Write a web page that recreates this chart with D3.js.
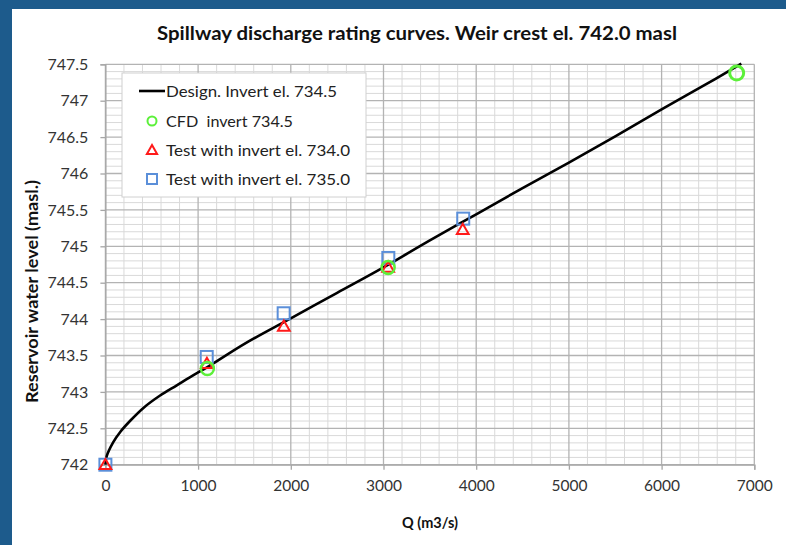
<!DOCTYPE html>
<html><head><meta charset="utf-8">
<script src="https://cdn.jsdelivr.net/npm/d3@7"></script>
<style>
html,body{margin:0;padding:0;background:#1d5b8c;}
svg{display:block;}
text{font-family:Lato,"Open Sans",sans-serif;white-space:pre;}
</style></head>
<body>
<svg id="c" width="786" height="545"></svg>
<script>
// ---- data ----
const title = "Spillway discharge rating curves. Weir crest el. 742.0 masl";
const xLabel = "Q (m3/s)";
const yLabel = "Reservoir water level (masl.)";
const xTicks = [0,1000,2000,3000,4000,5000,6000,7000];
const yTicks = [742,742.5,743,743.5,744,744.5,745,745.5,746,746.5,747,747.5];

const designQ = [0,15,85,160,265,410,590,770,950,1100,1500,2000,2500,3000,3500,4000,4500,5000,5500,6000,6500,6860];
const designH = [742,742.12,742.31,742.45,742.60,742.78,742.95,743.09,743.23,743.34,743.66,744.01,744.36,744.71,745.08,745.44,745.80,746.15,746.51,746.88,747.24,747.51];

const cfdQ = [1100,3050,6810];
const cfdH = [743.32,744.71,747.38];

const test734Q = [0,1095,1925,3050,3855];
const test734H = [742.0,743.39,743.90,744.71,745.23];

const test735Q = [0,1093,1923,3052,3860];
const test735H = [742.0,743.48,744.08,744.84,745.38];

const legendLabels = ["Design. Invert el. 734.5","CFD  invert 734.5","Test with invert el. 734.0","Test with invert el. 735.0"];

// ---- drawing ----
const svg = d3.select("#c");
svg.append("rect").attr("x",12).attr("y",9).attr("width",786-12).attr("height",545-9).attr("fill","#fff");

const x = d3.scaleLinear().domain([0,7000]).range([105.4,754.3]);
const y = d3.scaleLinear().domain([742,747.5]).range([464.7,64.3]);

const g = svg.append("g");
// minor grid
const minorX = d3.range(0,7001,200).filter(v=>v%1000!==0);
const minorY = d3.range(0,56).map(i=>742+i*0.1).filter(v=>Math.abs(v*2-Math.round(v*2))>1e-6);
g.selectAll(".mx").data(minorX).enter().append("line")
  .attr("x1",d=>x(d)).attr("x2",d=>x(d)).attr("y1",y(747.5)).attr("y2",y(742))
  .attr("stroke","#d9d9d9").attr("stroke-width",1);
g.selectAll(".my").data(minorY).enter().append("line")
  .attr("x1",x(0)).attr("x2",x(7000)).attr("y1",d=>y(d)).attr("y2",d=>y(d))
  .attr("stroke","#d9d9d9").attr("stroke-width",1);
// major grid
g.selectAll(".Mx").data(xTicks).enter().append("line")
  .attr("x1",d=>x(d)).attr("x2",d=>x(d)).attr("y1",y(747.5)).attr("y2",y(742))
  .attr("stroke","#b3b3b3").attr("stroke-width",1.3);
g.selectAll(".My").data(yTicks).enter().append("line")
  .attr("x1",x(0)).attr("x2",x(7000)).attr("y1",d=>y(d)).attr("y2",d=>y(d))
  .attr("stroke","#b3b3b3").attr("stroke-width",1.3);

// axes
const ax = svg.append("g").attr("transform",`translate(0,${y(742)})`)
  .call(d3.axisBottom(x).tickValues(xTicks).tickSize(5).tickPadding(10).tickFormat(d3.format("d")));
const ay = svg.append("g").attr("transform",`translate(${x(0)},0)`)
  .call(d3.axisLeft(y).tickValues(yTicks).tickSize(5).tickPadding(12).tickFormat(d=>String(d)));
[ax,ay].forEach(a=>{
  a.select(".domain").attr("stroke","#a6a6a6").attr("stroke-width",1.3);
  a.selectAll(".tick line").attr("stroke","#a6a6a6").attr("stroke-width",1.3);
  a.selectAll(".tick text").attr("fill","#333").style("font-family","Lato,sans-serif");
});
ax.selectAll(".tick text").style("font-size","15.5px");
ay.selectAll(".tick text").style("font-size","16px");

// design curve
const pts = designQ.map((q,i)=>[q,designH[i]]);
svg.append("path").datum(pts)
  .attr("d",d3.line().x(d=>x(d[0])).y(d=>y(d[1])).curve(d3.curveCatmullRom.alpha(0.5)))
  .attr("fill","none").attr("stroke","#000").attr("stroke-width",2.6);

// markers
const sq = 12;
svg.selectAll(".sq").data(test735Q.map((q,i)=>[q,test735H[i]])).enter().append("rect")
  .attr("x",d=>x(d[0])-sq/2).attr("y",d=>y(d[1])-sq/2).attr("width",sq).attr("height",sq)
  .attr("fill","none").attr("stroke","#5b8fd9").attr("stroke-width",2);
const tri = d3.symbol().type(d3.symbolTriangle).size(60);
svg.selectAll(".tr").data(test734Q.map((q,i)=>[q,test734H[i]])).enter().append("path")
  .attr("d",tri).attr("transform",d=>`translate(${x(d[0])},${y(d[1])+1})`)
  .attr("fill","none").attr("stroke","#ff1a1a").attr("stroke-width",2);
svg.selectAll(".ci").data(cfdQ.map((q,i)=>[q,cfdH[i]])).enter().append("circle")
  .attr("cx",d=>x(d[0])).attr("cy",d=>y(d[1])).attr("r",(d,i)=>i===2?7:6.5)
  .attr("fill","none").attr("stroke","#5cf03a").attr("stroke-width",(d,i)=>i===2?3:2.5);

// legend
const lg = svg.append("g");
lg.append("rect").attr("x",122).attr("y",73).attr("width",244).attr("height",124)
  .attr("fill","#fff").attr("stroke","#d0d0d0").attr("stroke-width",1);
const ly = [91,121,150,179];
const lw = [171,127,184,184];
legendLabels.forEach((t,i)=>{
  lg.append("text").attr("x",166).attr("y",ly[i]).attr("dy","0.35em")
    .attr("fill","#222").style("font-size","16px")
    .attr("textLength",lw[i]).attr("lengthAdjust","spacingAndGlyphs").text(t);
});
lg.append("line").attr("x1",139).attr("x2",165).attr("y1",ly[0]).attr("y2",ly[0]).attr("stroke","#000").attr("stroke-width",2.6);
lg.append("circle").attr("cx",152).attr("cy",ly[1]).attr("r",4.5).attr("fill","none").attr("stroke","#5cf03a").attr("stroke-width",2);
lg.append("path").attr("d",d3.symbol().type(d3.symbolTriangle).size(45)).attr("transform",`translate(152,${ly[2]+1})`)
  .attr("fill","none").attr("stroke","#ff1a1a").attr("stroke-width",2);
lg.append("rect").attr("x",147).attr("y",ly[3]-5).attr("width",10).attr("height",10).attr("fill","none").attr("stroke","#5b8fd9").attr("stroke-width",2);

// titles
svg.append("text").attr("x",417).attr("y",40).attr("text-anchor","middle")
  .style("font-size","19.5px").style("font-weight","bold").attr("fill","#111")
  .attr("textLength",520).attr("lengthAdjust","spacingAndGlyphs").text(title);
svg.append("text").attr("x",430).attr("y",528).attr("text-anchor","middle")
  .style("font-size","14.5px").style("font-weight","bold").attr("fill","#111").text(xLabel);
svg.append("text").attr("transform","translate(38,291.5) rotate(-90)").attr("text-anchor","middle")
  .style("font-size","17px").style("font-weight","bold").attr("fill","#111")
  .attr("textLength",223).attr("lengthAdjust","spacingAndGlyphs").text(yLabel);
</script>
</body></html>
